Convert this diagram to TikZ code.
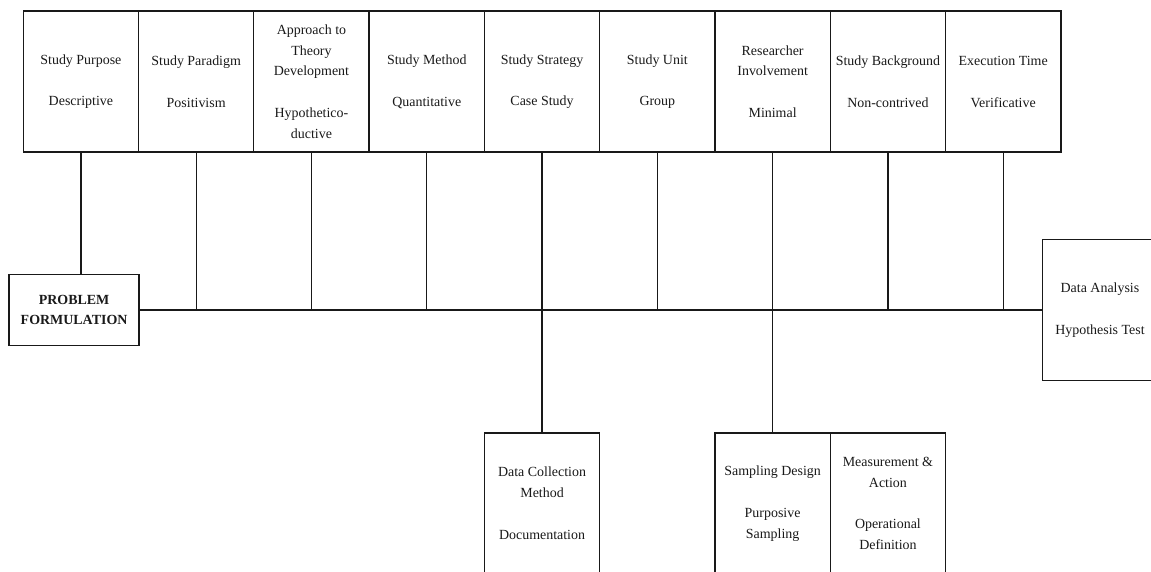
\documentclass[tikz,border=0pt]{standalone}
\usepackage{fontspec}
\setmainfont{Liberation Serif}
\begin{document}
\begin{tikzpicture}[x=1cm,y=1cm,
  stepbox/.style={draw=black!90, line width=1pt, minimum width=3.05cm, minimum height=3.73cm, inner sep=0pt, align=center, text=black!90, font=\fontsize{10.5}{15.75}\selectfont},
  link/.style={draw=black!90, line width=1pt}]
\useasboundingbox (0,0) rectangle (30.45,-15.11);
\node[stepbox] (purpose) at (2.14,-2.16) {Study Purpose\\ \strut\\Descriptive};
\node[stepbox] (paradigm) at (5.19,-2.16) {Study Paradigm\\ \strut\\Positivism};
\node[stepbox] (theory) at (8.24,-2.16) {Approach to\\Theory\\Development\\ \strut\\Hypothetico-\\ductive};
\node[stepbox] (method) at (11.29,-2.16) {Study Method\\ \strut\\Quantitative};
\node[stepbox] (strategy) at (14.34,-2.16) {Study Strategy\\ \strut\\Case Study};
\node[stepbox] (unit) at (17.39,-2.16) {Study Unit\\ \strut\\Group};
\node[stepbox] (involvement) at (20.44,-2.16) {Researcher\\Involvement\\ \strut\\Minimal};
\node[stepbox] (background) at (23.49,-2.16) {Study Background\\ \strut\\Non-contrived};
\node[stepbox] (time) at (26.54,-2.16) {Execution Time\\ \strut\\Verificative};
\node[stepbox, minimum width=3.44cm, minimum height=1.88cm] (problem) at (1.96,-8.2) {\textbf{PROBLEM}\\\textbf{FORMULATION}};
\node[stepbox] (analysis) at (29.10,-8.2) {Data Analysis\\ \strut\\Hypothesis Test};
\node[stepbox] (collection) at (14.34,-13.32) {Data Collection\\Method\\ \strut\\Documentation};
\node[stepbox] (sampling) at (20.44,-13.32) {Sampling Design\\ \strut\\Purposive\\Sampling};
\node[stepbox] (measure) at (23.49,-13.32) {Measurement \&\\Action\\ \strut\\Operational\\Definition};
\draw[link] (purpose.south) -- (purpose.south |- problem.north);
\draw[link] (problem.east) -- (analysis.west);
\draw[link] (paradigm.south) -- (paradigm.south |- problem.east);
\draw[link] (theory.south) -- (theory.south |- problem.east);
\draw[link] (method.south) -- (method.south |- problem.east);
\draw[link] (unit.south) -- (unit.south |- problem.east);
\draw[link] (background.south) -- (background.south |- problem.east);
\draw[link] (time.south) -- (time.south |- problem.east);
\draw[link] (strategy.south) -- (collection.north);
\draw[link] (involvement.south) -- (sampling.north);
\end{tikzpicture}
\end{document}
